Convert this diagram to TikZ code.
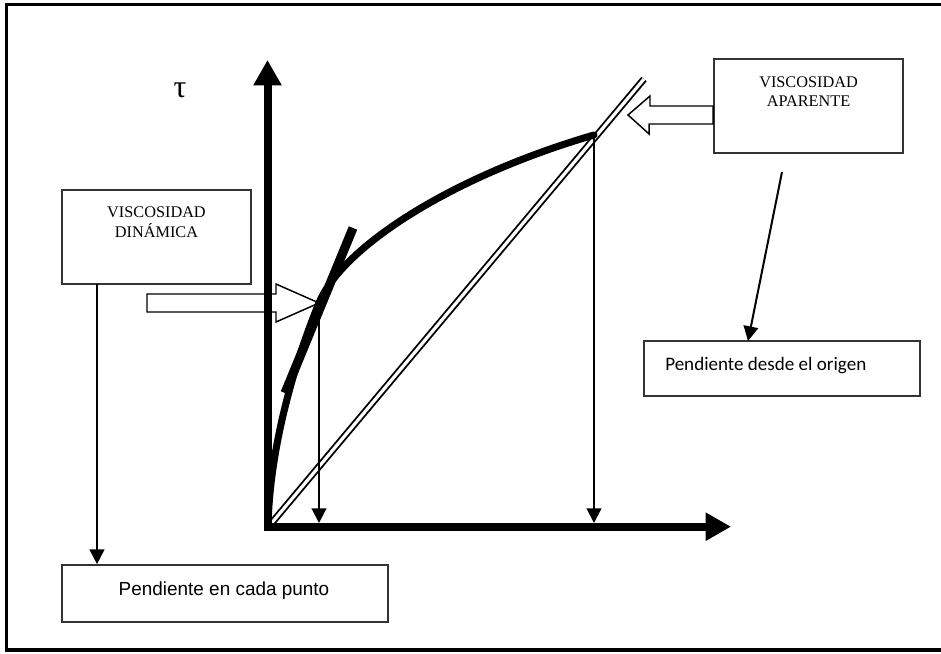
\documentclass[tikz,border=0pt]{standalone}
\usepackage{fontspec}
\setmainfont{Liberation Serif}
\newfontfamily\arialfont{Liberation Sans}
\newfontfamily\calibrifont{Carlito}
\usetikzlibrary{arrows.meta}

\begin{document}
\begin{tikzpicture}[x=0.75pt,y=-0.75pt,
  box/.style 2 args={draw=black!80, line width=1.3pt, fill=white, inner sep=0pt,
    minimum width=#1*0.75pt, minimum height=#2*0.75pt},
  captext/.style={font=\fontsize{12.2pt}{15pt}\selectfont, inner sep=0pt, anchor=base},
  thinarrow/.style={draw=black, line width=1.5pt, -{Triangle[length=11pt,width=11pt]}},
  axis/.style={line width=6pt, -{Triangle[length=19pt,width=20pt]}},
  hollow/.style={draw=black, line width=1.1pt, fill=white, line join=miter},
  flowcurve/.style={line width=5.3pt, line cap=round},
  tangent/.style={line width=6.8pt},
  secant/.style={double=white, double distance=2.4pt, line width=1.4pt}]

% page and outer frame
\useasboundingbox (0,0) rectangle (941,653);
\fill[white] (0,0) rectangle (941,653);
\draw[line width=2.4pt] (6.5,4.5) rectangle (960,650);

% key points of the diagram
\coordinate (O) at (268,526);
\coordinate (P) at (319,303);
\coordinate (Q) at (594,135);
\coordinate (Pfoot) at (319,523);
\coordinate (Qfoot) at (594,523);
\coordinate (Sbot) at (270,525);
\coordinate (Stop) at (644,79);
\coordinate (Tbot) at (285,393);
\coordinate (Ttop) at (353,228);

% boxes
\node[box={189}{94}] (vd) at (156.5,237) {};
\node[box={189}{94}] (va) at (808.5,106) {};
\node[box={326}{57}] (pc) at (225,593.5) {};
\node[box={276}{55}] (po) at (782,368.5) {};

% box texts
\node[captext] (vd1) at (156.5,217.4) {VISCOSIDAD};
\node[captext] (vd2) at (156.5,237.4) {DINÁMICA};
\node[captext] (va1) at (808.5,87.3) {VISCOSIDAD};
\node[captext] (va2) at (808.5,106.5) {APARENTE};
\node[font=\arialfont\fontsize{14.2pt}{17pt}\selectfont, inner sep=0pt, anchor=base]
  (pct) at (224,595.7) {Pendiente en cada punto};
\node[font=\calibrifont\fontsize{14.3pt}{17pt}\selectfont, inner sep=0pt, anchor=base west]
  (pot) at (665,370.7) {Pendiente desde el origen};

% hollow block arrows
\draw[hollow] (P) -- ++(-43,-19) -- ++(0,10) -- ++(-129,0) -- ++(0,18)
  -- ++(129,0) -- ++(0,10) -- cycle;
\coordinate (Atip) at (628,115);
\draw[hollow] (Atip) -- ++(22,-19) -- ++(0,10) -- (va.west |- 0,106) -- (va.west |- 0,124)
  -- ++(-64,0) -- ++(0,10) -- cycle;

% secant line from the origin (double line)
\draw[secant] (Sbot) -- (Stop);

% flow curve
\draw[flowcurve] (O) .. controls (270,440) and (298.6,352.5) .. (P)
  .. controls (341.9,247.5) and (450,177) .. (Q);

% tangent at P
\draw[tangent] (Tbot) -- (Ttop);

% axes
\draw[axis] (267.5,531) -- (267.5,60);
\draw[axis] (264,526.7) -- (731,526.7);
\node[font=\fontsize{24pt}{26pt}\selectfont, inner sep=0pt] (tau) at (180,90) {τ};

% thin connectors
\draw[thinarrow] (P) -- (Pfoot);
\draw[thinarrow] (Q) -- (Qfoot);
\coordinate (vdout) at (97,284);
\draw[thinarrow] (vdout) -- (vdout |- pc.north);
\coordinate (aptail) at (782,172);
\coordinate (aphead) at (748,341);
\draw[thinarrow] (aptail) -- (aphead);
\end{tikzpicture}
\end{document}
